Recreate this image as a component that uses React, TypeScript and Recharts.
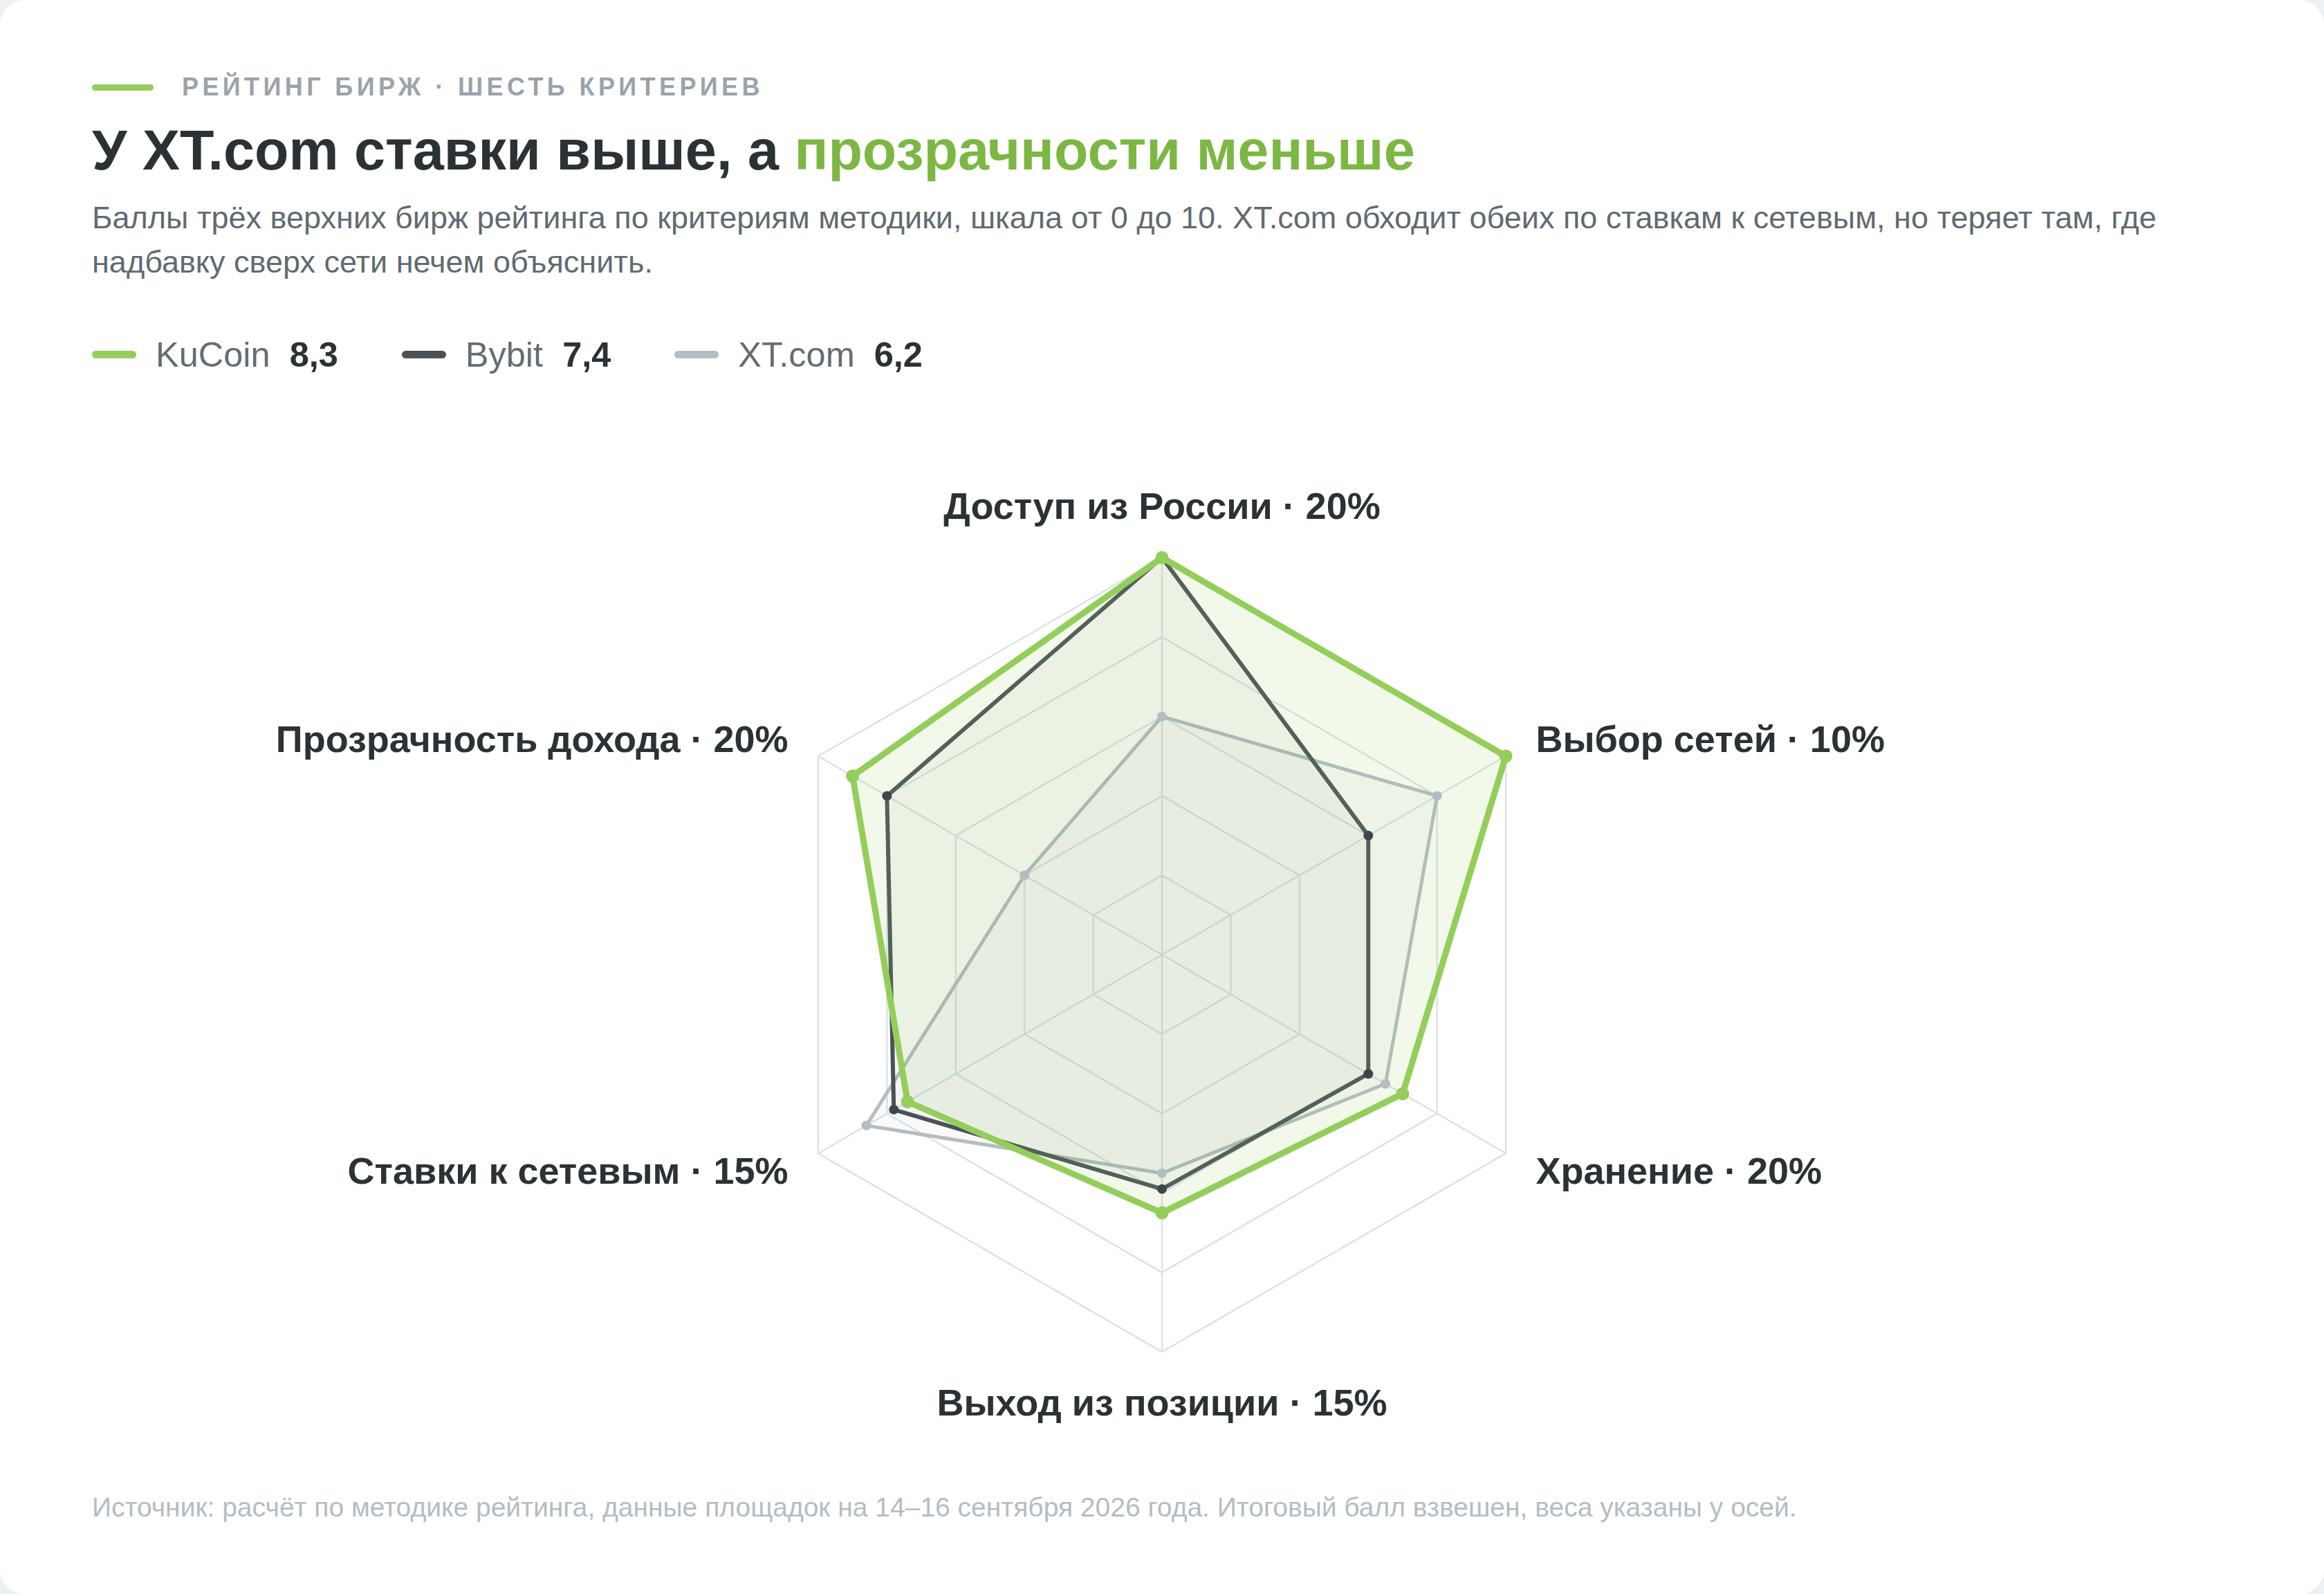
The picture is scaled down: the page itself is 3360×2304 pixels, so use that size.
import React from 'react';
import { RadarChart, Radar, PolarGrid, PolarAngleAxis, PolarRadiusAxis } from 'recharts';

const criteria = [
  'Доступ из России · 20%',
  'Выбор сетей · 10%',
  'Хранение · 20%',
  'Выход из позиции · 15%',
  'Ставки к сетевым · 15%',
  'Прозрачность дохода · 20%',
];
const kucoinScores = [10, 10, 7, 6.5, 7.4, 9];
const bybitScores = [10, 6, 6, 5.9, 7.8, 8];
const xtScores = [6, 8, 6.5, 5.5, 8.6, 4];

const exchanges = ['KuCoin', 'Bybit', 'XT.com'];
const totals = ['8,3', '7,4', '6,2'];
const colors = ['#94ce5a', '#4a5258', '#b4bdc3'];

const data = criteria.map((axis, i) => ({
  axis,
  kucoin: kucoinScores[i],
  bybit: bybitScores[i],
  xt: xtScores[i],
}));

const W = 3360;
const H = 2304;
const CX = 1680;
const CY = 1380;
const R = 574;
const LABEL_R = 624;
const FONT = '"Liberation Sans", Arial, Helvetica, sans-serif';

const AxisTick = ({ x, y, payload }: any) => {
  const dx = x - CX;
  const dy = y - CY;
  const len = Math.sqrt(dx * dx + dy * dy) || 1;
  let px = CX + (dx / len) * LABEL_R;
  let py = CY + (dy / len) * LABEL_R;
  let anchor = 'middle';
  if (Math.abs(dx) < 2) {
    py += dy < 0 ? -25 : 23;
  } else {
    anchor = dx > 0 ? 'start' : 'end';
  }
  return (
    <text
      x={px}
      y={py + 19}
      textAnchor={anchor}
      fill="#2b3235"
      fontSize={54}
      fontWeight={700}
      fontFamily={FONT}
    >
      {payload.value}
    </text>
  );
};

const Legend = () => (
  <div style={{ position: 'absolute', left: 133, top: 482, height: 60, display: 'flex', alignItems: 'center', gap: 92 }}>
    {exchanges.map((name, i) => (
      <div key={name} style={{ display: 'flex', alignItems: 'center' }}>
        <div style={{ width: 64, height: 11, borderRadius: 6, background: colors[i], marginRight: 28 }} />
        <span style={{ fontSize: 50.5, color: '#636e73' }}>{name}</span>
        <span style={{ fontSize: 50.5, fontWeight: 700, color: '#2b3235', marginLeft: 28 }}>{totals[i]}</span>
      </div>
    ))}
  </div>
);

export default function App() {
  return (
    <div style={{ position: 'absolute', left: 0, top: 0, width: W, height: H, background: '#eef1f3', fontFamily: FONT }}>
      <div style={{ position: 'absolute', left: 0, top: 0, width: W, height: H, background: '#ffffff', borderRadius: 36, overflow: 'hidden' }}>
        <RadarChart
          width={W}
          height={H}
          data={data}
          cx={CX}
          cy={CY}
          outerRadius={R}
          margin={{ top: 0, right: 0, bottom: 0, left: 0 }}
          style={{ position: 'absolute', left: 0, top: 0 }}
        >
          <PolarGrid gridType="polygon" stroke="#dbe3e8" strokeWidth={2.5} />
          <PolarRadiusAxis domain={[0, 10]} tickCount={6} tick={false} axisLine={false} />
          <PolarAngleAxis dataKey="axis" tick={<AxisTick />} tickLine={false} axisLine={false} />
          <Radar dataKey="xt" stroke={colors[2]} strokeWidth={5} fill={colors[2]} fillOpacity={0.07} dot={false} isAnimationActive={false} strokeLinejoin="round" />
          <Radar dataKey="bybit" stroke={colors[1]} strokeWidth={6} fill={colors[1]} fillOpacity={0.04} dot={false} isAnimationActive={false} strokeLinejoin="round" />
          <Radar dataKey="kucoin" stroke={colors[0]} strokeWidth={9} fill={colors[0]} fillOpacity={0.12} dot={false} isAnimationActive={false} strokeLinejoin="round" />
          {/* dots sit above every fill */}
          <Radar dataKey="xt" stroke="none" fill="none" dot={{ r: 7, fill: colors[2], stroke: 'none' }} isAnimationActive={false} />
          <Radar dataKey="bybit" stroke="none" fill="none" dot={{ r: 7, fill: '#3f474d', stroke: 'none' }} isAnimationActive={false} />
          <Radar dataKey="kucoin" stroke="none" fill="none" dot={{ r: 9.5, fill: colors[0], stroke: 'none' }} isAnimationActive={false} />
        </RadarChart>

        <div style={{ position: 'absolute', left: 133, top: 106, height: 40, display: 'flex', alignItems: 'center' }}>
          <div style={{ width: 89, height: 9, borderRadius: 5, background: '#94ce5a', marginRight: 41 }} />
          <span style={{ fontSize: 36, fontWeight: 700, letterSpacing: 5.4, color: '#9aa3ab', whiteSpace: 'nowrap' }}>
            РЕЙТИНГ БИРЖ · ШЕСТЬ КРИТЕРИЕВ
          </span>
        </div>

        <div style={{ position: 'absolute', left: 133, top: 169, fontSize: 81, lineHeight: '96px', fontWeight: 700, color: '#2b3235', whiteSpace: 'nowrap' }}>
          У XT.com ставки выше, а <span style={{ color: '#7cb743' }}>прозрачности меньше</span>
        </div>

        <div style={{ position: 'absolute', left: 133, top: 283, width: 3094, fontSize: 45, lineHeight: '64px', color: '#5f6b70' }}>
          Баллы трёх верхних бирж рейтинга по критериям методики, шкала от 0 до 10. XT.com обходит обеих по ставкам к сетевым, но теряет там, где надбавку сверх сети нечем объяснить.
        </div>

        <Legend />

        <div style={{ position: 'absolute', left: 133, top: 2155, fontSize: 39, lineHeight: '48px', color: '#b3bdc4', whiteSpace: 'nowrap' }}>
          Источник: расчёт по методике рейтинга, данные площадок на 14–16 сентября 2026 года. Итоговый балл взвешен, веса указаны у осей.
        </div>
      </div>
    </div>
  );
}
